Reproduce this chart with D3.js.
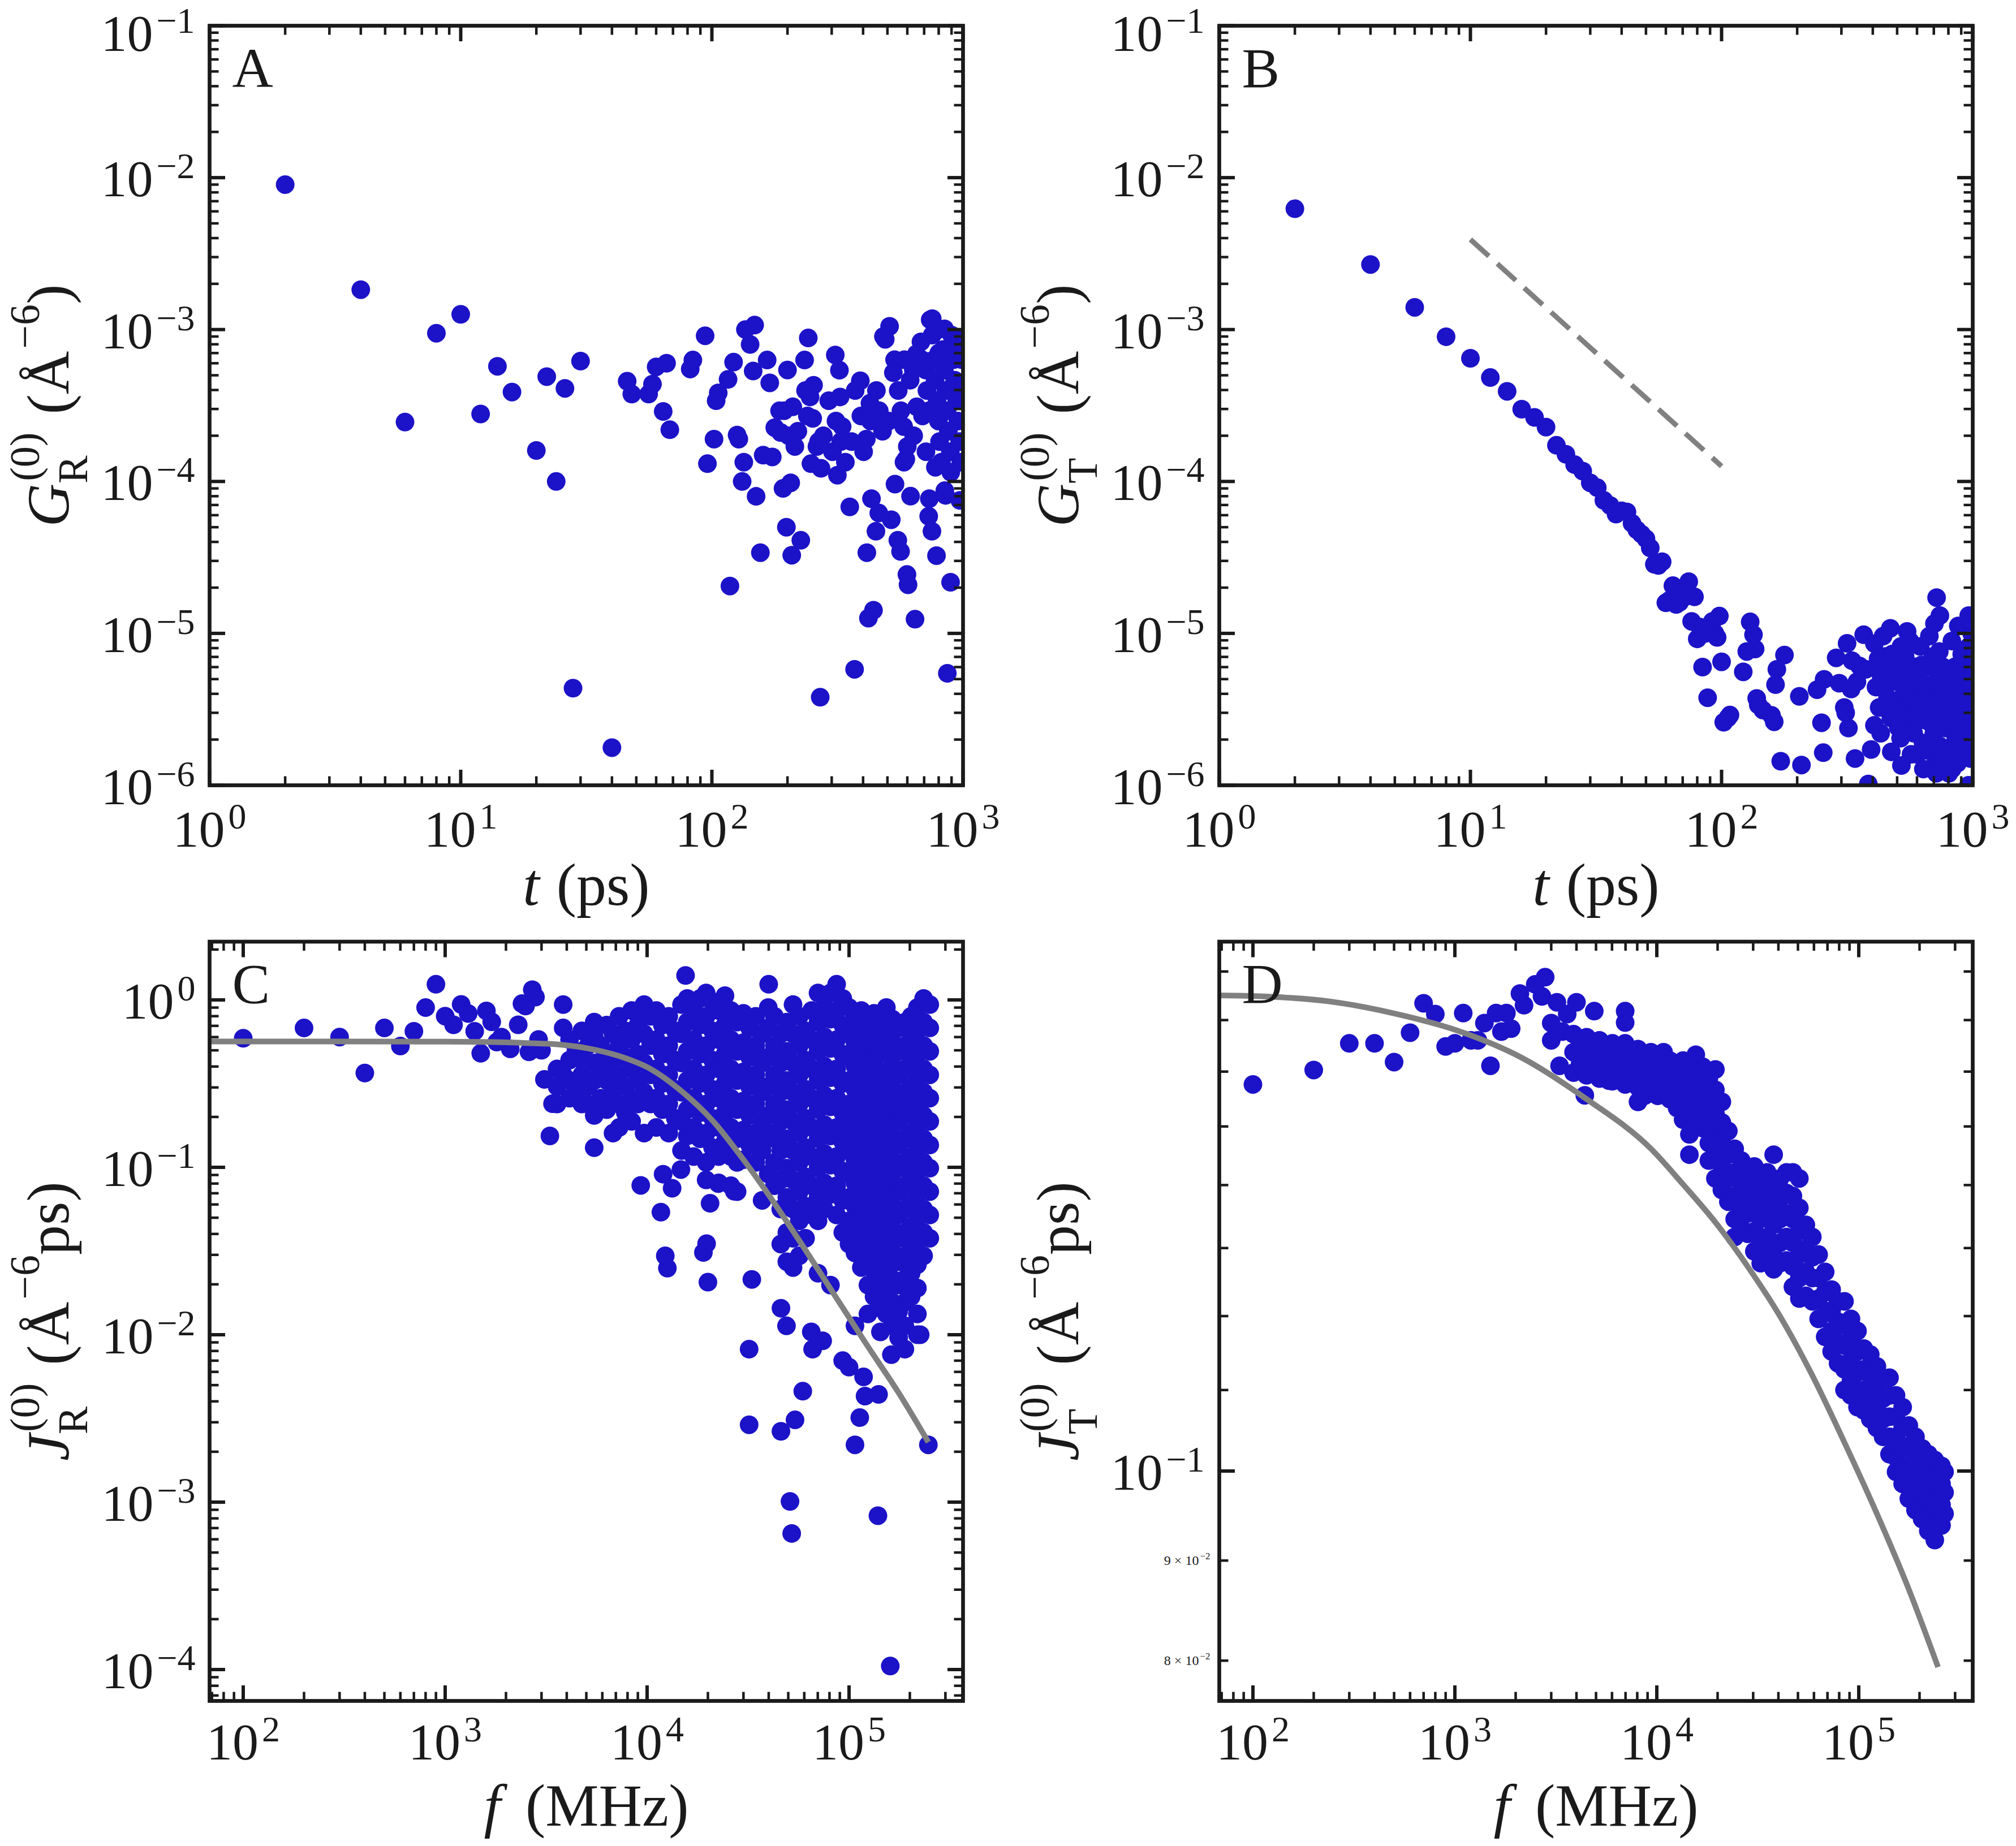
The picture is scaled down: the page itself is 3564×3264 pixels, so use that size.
<!DOCTYPE html>
<html>
<head>
<meta charset="utf-8">
<script src="https://cdn.jsdelivr.net/npm/d3@7"></script>
<style>
  body { margin: 0; background: #fff; }
  svg text { font-family: "Liberation Serif", "DejaVu Serif", serif; fill: #1a1a1a; }
</style>
</head>
<body>
<svg id="fig" width="3564" height="3264"></svg>
<script>
// ---- data ----
// A: G_R(t), t in ps
var aPts = [[2,9.0e-3],[4,1.83e-3],[6,2.46e-4],[8,9.46e-4],[10,1.26e-3],[12,2.78e-4],[14,5.73e-4],[16,3.88e-4],[20,1.6e-4],[22,4.9e-4],[24,1.0e-4],[26,4.1e-4],[28,4.36e-6],[30,6.2e-4],[40,1.77e-6],[46,4.57e-4],[48,3.76e-4],[56,3.76e-4],[58,4.37e-4],[60,5.68e-4],[64,2.89e-4],[66,6.0e-4],[68,2.19e-4],[82,5.5e-4],[84,6.3e-4],[94,9.1e-4],[96,1.31e-4],[102,1.9e-4],[104,3.4e-4],[106,3.83e-4],[116,4.7e-4],[118,2.05e-5],[122,6.1e-4],[126,2.02e-4],[128,1.9e-4],[132,1.0e-4],[134,1.34e-4],[136,1.0e-3],[142,7.98e-4],[146,5.33e-4],[148,1.07e-3],[150,7.98e-5],[156,3.4e-5],[160,1.49e-4],[166,6.3e-4],[170,4.46e-4],[174,1.45e-4],[178,2.26e-4],[186,2.92e-4],[192,9.0e-5],[198,5.0e-5],[200,5.42e-4],[206,9.8e-5],[208,3.27e-5],[226,4.1e-5],[234,6.3e-4],[242,8.8e-4],[248,1.31e-4],[252,2.6e-4],[254,4.3e-4],[266,1.83e-4],[270,3.8e-6],[272,1.22e-4],[310,6.8e-4],[316,1.1e-4],[322,5.4e-4],[326,1.83e-4],[354,6.8e-5],[370,5.8e-6],[390,4.6e-4],[414,3.4e-5],[420,1.26e-5],[426,3.27e-4],[432,7.7e-5],[440,1.42e-5],[450,4.7e-5],[462,6.2e-5],[482,9.0e-4],[510,1.05e-3],[518,5.6e-5],[550,4.1e-5],[564,3.46e-5],[582,1.34e-4],[598,2.44e-5],[604,2.09e-5],[644,1.24e-5],[680,8.3e-4],[730,5.9e-5],[740,1.16e-3],[752,4.7e-5],[784,3.25e-5],[796,1.0e-3],[852,8.1e-5],[866,5.46e-6],[892,2.17e-5],[972,7.5e-5],
  [490,8.63e-4],[534,6.33e-4],[528,5.2e-4],[552,3.97e-4],[566,2.92e-4],[580,2.3e-4],[600,1.7e-4],[592,1.4e-4],[616,4.64e-4],[634,5.42e-4],[652,6.9e-4],[686,6.33e-4],[710,5.42e-4],[718,3.97e-4],[732,2.92e-4],[754,9.2e-4],[766,6.33e-4],[774,4.64e-4],[788,3.4e-4],[798,2.5e-4],[806,1.83e-4],[820,1.34e-4],[834,7.39e-4],[842,5.42e-4],[854,3.97e-4],[864,2.92e-4],[874,2.14e-4],[890,1.57e-4],[900,9.2e-4],[916,6.33e-4],[926,4.64e-4],[944,3.4e-4],[954,2.5e-4],[970,1.83e-4],[980,1.34e-4],[968,8.63e-4],[990,6.33e-4],[988,3.97e-4],[894,1.15e-4],[776,1.24e-4],[712,1.57e-4],[636,2.0e-4],[654,3.1e-4],[690,2.7e-4],[506,2.5e-4],[478,2.14e-4],[464,2.92e-4],[452,3.97e-4],[428,2.5e-4],[412,1.9e-4],[402,1.57e-4],[392,2.7e-4],[372,3.97e-4],[360,1.83e-4],[340,1.34e-4],[330,2.3e-4],[324,3.6e-4],[312,2.5e-4],[302,1.57e-4],[292,3.4e-4],[278,2.0e-4],[262,1.7e-4],[246,3.6e-4],[240,2.7e-4],[236,3.97e-4],[220,2.14e-4],[214,1.7e-4],[210,3.1e-4],[202,2.0e-4],[194,2.92e-4],[188,2.1e-4],[584,6.33e-4],[800,7.0e-4],[946,7.4e-4],[844,1.01e-3],[754,1.18e-3],[536,9.6e-5],[618,8.0e-5],[734,7.7e-5],[846,8.7e-5]];

// B: G_T(t)
var bPts = [[2,6.24e-3],[4,2.68e-3],[6,1.40e-3],[8,8.97e-4],[10,6.47e-4],[12,4.83e-4],[14,3.92e-4],[16,2.99e-4],[18,2.64e-4],[20,2.28e-4],[22,1.73e-4],[24,1.51e-4],[26,1.29e-4],[28,1.17e-4],[30,9.8e-5],[32,9.1e-5],[34,7.5e-5],[36,6.95e-5],[38,6.1e-5],[40,6.4e-5],[42,6.3e-5],[44,5.3e-5],[46,4.8e-5],[48,4.5e-5],[50,4.2e-5],[52,3.65e-5],[54,2.85e-5],[56,2.8e-5],[58,2.96e-5],[60,1.59e-5],[62,1.65e-5],[64,2.06e-5],[66,1.55e-5],[68,1.6e-5],[70,1.71e-5],[72,1.75e-5],[74,2.19e-5],[76,1.2e-5],[78,1.74e-5],[80,9.2e-6],[82,1.1e-5],[84,6.0e-6],[86,1.0e-5],[88,3.77e-6],[90,1.05e-5],[92,1.2e-5],[94,1.0e-5],[96,9.4e-6],[98,1.3e-5],[100,6.5e-6],[102,2.6e-6],
  [106,2.78e-6],[108,2.9e-6],[122,5.58e-6],[126,7.6e-6],[130,1.19e-5],[134,9.8e-6],[136,7.9e-6],[138,3.73e-6],[140,3.38e-6],[146,3.13e-6],[158,2.89e-6],[162,2.62e-6],[164,4.6e-6],[166,5.8e-6],[172,1.44e-6],[178,7.2e-6],[204,3.85e-6],[208,1.36e-6],[240,4.26e-6],[250,2.58e-6],[254,1.64e-6],[256,4.98e-6],[286,6.9e-6],[294,4.7e-6],[308,3.25e-6],[316,8.6e-6],[320,2.38e-6],[340,1.5e-6],[346,4.8e-6],[354,6.1e-6],[368,9.8e-6],[376,5.8e-6],[384,1.02e-6],[394,1.72e-6],[406,2.48e-6],[328,4.3e-6],[312,3.0e-6],[331,6.6e-6],
  [406,8.57e-6],[420,6.8e-6],[444,6.04e-6],[432,5.17e-6],[412,4.43e-6],[458,3.79e-6],[424,3.25e-6],[472,2.78e-6],[516,2.04e-6],[474,1.66e-6],[486,6.04e-6],[478,7.3e-6],[470,1.08e-5],[518,8.2e-6],[532,5.6e-6],
  [548,1.03e-5],[562,8.9e-6],[538,7.05e-6],[580,6.04e-6],[564,4.8e-6],[598,4.0e-6],[616,3.25e-6],[566,2.45e-6],[634,1.9e-6],[600,1.6e-6],[626,6.2e-6],[618,8.2e-6],
  [704,1.16e-5],[672,9.6e-6],[736,7.6e-6],[652,6.04e-6],[712,4.8e-6],[756,3.79e-6],[692,3.0e-6],[780,2.38e-6],[738,1.82e-6],[714,1.5e-6],[716,1.2e-6],[718,1.72e-5],[740,1.31e-5],[802,1.75e-6],[804,1.2e-6],
  [876,1.12e-5],[826,8.9e-6],[904,7.3e-6],[852,6.04e-6],[932,4.8e-6],[894,3.79e-6],[958,3.0e-6],[854,2.38e-6],[960,1.95e-6],[906,1.62e-6],[828,1.28e-6],[962,1.0e-6],[964,1.31e-5],[990,1.0e-5],[992,4.43e-6],[994,2.78e-6],[914,1.82e-6],
  [440,9.6e-6],[450,7.05e-6],[500,4.8e-6],[524,3.79e-6],[550,3.0e-6],[582,2.2e-6],[654,3.79e-6],[674,2.6e-6],[758,6.04e-6],[782,4.43e-6],[830,3.25e-6],[880,4.8e-6],[934,6.6e-6],[908,2.78e-6],[948,2.38e-6],[856,2.04e-6],[794,2.9e-6],[636,1.28e-6],[568,1.6e-6],[694,7.05e-6],[966,8.2e-6],[1000,6.0e-6],
  [430,2.2e-6],[460,4.8e-6],[490,3.3e-6],[505,2.4e-6],[540,4.2e-6],[575,3.6e-6],[590,2.8e-6],[610,5.2e-6],[640,2.7e-6],[660,4.4e-6],[680,3.4e-6],[700,2.2e-6],[725,5.4e-6],[745,2.9e-6],[765,4.6e-6],[790,3.6e-6],[815,5.2e-6],[840,2.7e-6],[865,4.2e-6],[885,3.2e-6],[918,5.6e-6],[940,3.6e-6],[975,4.9e-6],[985,3.4e-6],[998,2.2e-6],[980,1.5e-6],[870,1.4e-6],[760,1.45e-6],[650,1.7e-6],[520,1.35e-6]];

// B: t^-3/2 guide (dashed)
var bGuide = [[10,3.92e-3],[100,1.26e-4]];

// C: J_R(f), f in MHz - isolated points
var cPts = [[100,0.59],[200,0.68],[300,0.60],[400,0.366],[500,0.68],[600,0.53],[700,0.65],[800,0.90],[900,1.24],[1000,0.80],[1100,0.71],[1200,0.94],[1300,0.83],[1400,0.65],[1500,0.48],[1600,0.86],[1700,0.74],[1800,0.56],[1900,0.60],[2100,0.51],[2300,0.71],[2400,0.95],[2500,0.92],[2600,0.49],[2700,1.15],[2800,1.04],[2900,0.58],[3000,0.50],[3100,0.335],[3300,0.154],[3400,0.24],
  [9300,0.078],[1.17e4,0.054],[1.2e4,0.091],[1.23e4,0.0296],[1.26e4,0.025],[1.33e4,0.075],[1.47e4,0.097],[1.55e4,1.40],[1.9e4,0.031],[1.97e4,0.035],[2.0e4,0.0206],[2.05e4,0.061],[2.25e4,0.08],[2.7e4,0.072],[3.2e4,0.0082],[3.2e4,0.0029],[3.3e4,0.0214],[4.0e4,1.24],[4.6e4,0.00265],[4.6e4,0.0144],[4.9e4,0.0113],[5.1e4,0.00101],[5.2e4,0.00065],[5.4e4,0.0031],[5.9e4,0.0046],[6.5e4,0.0104],[6.6e4,0.0082],[7.4e4,0.0092],[9.3e4,0.007],[1.0e5,0.0064],[1.07e5,0.0022],[1.13e5,0.0032],[1.18e5,0.0056],[1.2e5,0.0043],[1.39e5,0.00083],[1.6e5,0.000105],[1.4e5,0.0044],[1.62e5,0.0076],[2.47e5,0.0022],[2.25e5,0.01]];

// C: dense part, J values grouped by frequency column
var cColF = [3580,3840,4130,4440,4750,5100,5470,5890,6310,6780,7270,7800,8380,9000,9660,1.04e4,1.11e4,1.19e4,1.28e4,1.38e4,1.48e4,1.58e4,1.70e4,1.83e4,1.96e4,2.11e4,2.26e4,2.43e4,2.60e4,2.79e4,3.0e4,3.22e4,3.45e4,3.71e4,3.98e4,4.27e4,4.59e4,4.92e4,5.28e4,5.67e4,6.09e4,6.53e4,7.02e4,7.53e4,8.09e4,8.68e4,9.31e4,1.0e5,1.07e5,1.15e5,1.24e5,1.33e5,1.43e5,1.53e5,1.64e5,1.76e5,1.89e5,2.03e5,2.18e5,2.34e5,2.51e5];
var cColJ = [
  [.387,.304,.239],[.938,.680,.357],[.579,.437,.330,.259],[.493,.281],[.653,.437,.357,.239],[.534,.304,.239],
  [.737,.603,.420,.330,.204,.131],[.534,.387,.259],[.708,.474,.330,.221],[.627,.420,.281,.160],[.798,.534,.357,.239,.173],
  [.653,.455,.304,.212],[.865,.579,.387,.259,.188],[.865,.708,.474,.330,.239],[.938,.627,.420,.281,.160],[.798,.534,.357,.239],
  [.865,.579,.387,.259,.173],[.708,.474,.317,.221],[.798,.534,.357,.239,.160],[.653,.437,.292,.196],[.938,.627,.420,.281,.188,.126],
  [1.02,.737,.493,.330,.221,.154],[.865,.579,.387,.259,.173,.116],[1.02,.708,.474,.317,.212,.148],[1.10,.798,.534,.357,.239,.160,.107,.0841],
  [.976,.653,.437,.292,.196,.131],[.865,.579,.387,.259,.173,.116,.0808],[1.06,.708,.474,.317,.212,.142],[.865,.579,.387,.259,.173,.116,.0776],
  [.737,.493,.330,.221,.148,.107,.0716],[.831,.556,.372,.249,.167,.111],[.680,.455,.304,.204,.136],[.798,.534,.357,.239,.160,.107],
  [.627,.420,.281,.188,.126,.0635],[.901,.680,.455,.304,.204,.148,.0912],[.798,.534,.357,.239,.160,.107,.0776],
  [.627,.420,.281,.188,.126,.0841,.0563,.0348],[.737,.493,.330,.221,.148,.0988,.0661,.0408,.0273],
  [.938,.627,.420,.281,.188,.126,.0841,.0563,.0377,.0252],[.798,.534,.357,.239,.160,.107,.0716,.0479,.0296],
  [.653,.437,.292,.196,.131,.0876,.0586,.0377],[.865,.579,.387,.259,.173,.116,.0776,.0519],
  [1.10,.737,.493,.330,.221,.148,.0988,.0661,.0479,.0233],[.901,.603,.403,.270,.180,.121,.0808,.0563],
  [1.10,.767,.513,.343,.230,.154,.103,.0688,.0198],[1.24,.865,.579,.387,.259,.173,.116,.0776,.0519],
  [1.02,.708,.474,.317,.212,.142,.0949,.0635,.0408],
  [.901,.627,.455,.330,.239,.173,.126,.0912,.0661,.0479,.0348],
  [.767,.556,.403,.292,.212,.154,.111,.0808,.0586,.0425,.0308,.0113],
  [.865,.627,.455,.330,.239,.173,.126,.0912,.0661,.0479,.0348,.0252],
  [.737,.534,.387,.281,.204,.148,.107,.0776,.0563,.0408,.0296,.0198,.0133],
  [.831,.603,.437,.317,.230,.167,.121,.0876,.0635,.0460,.0334,.0242,.0169],
  [.708,.513,.372,.270,.196,.142,.103,.0746,.0541,.0392,.0284,.0206,.0144,.0104],
  [.901,.653,.474,.343,.249,.180,.131,.0949,.0688,.0499,.0362,.0262,.0183,.0133],
  [.767,.556,.403,.292,.212,.154,.111,.0808,.0586,.0425,.0308,.0215,.0156,.0113],
  [.680,.493,.357,.259,.188,.136,.0988,.0716,.0519,.0377,.0273,.0198,.0138,.0096],
  [.737,.534,.387,.281,.204,.148,.107,.0776,.0563,.0408,.0296,.0215,.0156,.0113,.0082],
  [.798,.579,.420,.304,.221,.160,.116,.0841,.0610,.0442,.0321,.0233,.0169],
  [.901,.653,.474,.343,.249,.180,.131,.0949,.0688,.0499,.0362,.0262,.0190,.0133,.0100],
  [1.02,.737,.534,.387,.281,.204,.148,.107,.0776,.0563,.0408,.0296],
  [.938,.680,.493,.357,.259,.188,.136,.0988,.0716,.0519,.0377]];

// C: model curve (grey)
var cCurve = [[68,0.565],[300,0.565],[1000,0.563],[2000,0.558],[2510,0.553],[3580,0.543],[5120,0.513],[7270,0.462],[1.04e4,0.387],[1.48e4,0.285],[2.11e4,0.190],[3.0e4,0.111],[4.27e4,0.061],[6.09e4,0.032],[8.68e4,0.0165],[1.24e5,0.0085],[1.76e5,0.0045],[2.47e5,0.00228]];

// D: J_T(f) - isolated points
var dPts = [[100,.1576],[200,.1603],[300,.1654],[400,.1654],[500,.1618],[600,.1675],[700,.1734],[800,.1712],[900,.1648],[1000,.1654],[1100,.1714],[1200,.1660],[1300,.1660],[1400,.1694],[1500,.1611],[1600,.1714],[1700,.1677],[1800,.1714],[1900,.1683],[2100,.1754],[2200,.1730],[2500,.1773],[2700,.1748],[2800,.1788],[3000,.1694],[3000,.166],[3200,.1736],[3300,.1611],[3400,.1677],[3600,.1712],[4000,.1736],[4400,.1556],[4900,.1718],[5800,.1583],[6970,.1718]];

// D: dense band by frequency column
var dColF = [3870,4170,4490,4830,5200,5600,6030,6490,6970,7510,8070,8690,9350,1.01e4,1.08e4,1.16e4,1.26e4,1.35e4,1.45e4,1.56e4,1.69e4,1.81e4,1.95e4,2.1e4,2.26e4,2.43e4,2.62e4,2.82e4,3.04e4,3.27e4,3.52e4,3.79e4,4.07e4,4.39e4,4.72e4,5.08e4,5.47e4,5.89e4,6.33e4,6.82e4,7.34e4,7.9e4,8.5e4,9.15e4,9.86e4,1.06e5,1.14e5,1.23e5,1.32e5,1.42e5,1.53e5,1.65e5,1.77e5,1.91e5,2.06e5,2.21e5,2.38e5,2.57e5,2.66e5];
var dColJ = [
  [.1672,.1637,.1598],[.1654,.1615],[.1666,.1632,.1593],[.1649,.1609],[.1660,.1626,.1587],[.1643,.1604],[.1654,.1621,.1582],[.1637,.1598],
  [.1695,.1654,.1615,.1576],[.1637,.1598],[.1643,.1609,.1571,.1544],[.1626,.1587,.1555],[.1637,.1604,.1571],[.1621,.1587,.1555],
  [.1637,.1604,.1566],[.1621,.1587,.1549],[.1609,.1571,.1533],[.1621,.1587,.1549,.1512],[.1604,.1566,.1528,.1486,.1451],
  [.1632,.1587,.1549,.1512],[.1609,.1571,.1533,.1497],[.1587,.1549,.1512,.1471,.1441],[.1604,.1566,.1523,.1486,.1451,.1411],
  [.1544,.1507,.1471,.1431,.1392],[.1492,.1451,.1411,.1373],[.1461,.1421,.1382,.1345,.1317],[.1441,.1402,.1363,.1331],
  [.1421,.1387,.1354,.1322],[.1431,.1397,.1363,.1326,.1295],[.1411,.1378,.1345,.1308,.1277],[.1421,.1387,.1354,.1317,.1286],
  [.1451,.1402,.1368,.1336,.1299,.1268],[.1411,.1378,.1345,.1308,.1277],[.1421,.1387,.1354,.1317,.1281],
  [.1421,.1382,.1345,.1308,.1272,.1242],[.1411,.1363,.1326,.1290,.1255,.1225],[.1336,.1299,.1264,.1229],[.1317,.1286,.1255,.1221],
  [.1290,.1255,.1225,.1196],[.1264,.1234,.1204,.1171],[.1238,.1208,.1179,.1151],[.1221,.1192,.1163,.1135],
  [.1221,.1187,.1159,.1127,.1100],[.1196,.1167,.1139,.1112,.1093],[.1179,.1151,.1123,.1096,.1078],[.1155,.1127,.1100,.1074],
  [.1147,.1119,.1093,.1063],[.1131,.1104,.1078,.1052],[.1116,.1089,.1063,.1041],[.1116,.1093,.1066,.1041,.1020],
  [.1093,.1066,.1041,.1016,.0999],[.1078,.1052,.1027,.1002,.0985],[.1055,.1030,.1006,.0981,.0968],[.1041,.1016,.0992,.0968,.0955],
  [.1027,.1002,.0978,.0955,.0945],[.1020,.0995,.0971,.0948,.0932],[.1013,.0988,.0965,.0942,.0922],[.1006,.0985,.0961,.0938],
  [.0999,.0975,.0951]];

// D: model curve (grey)
var dCurve = [[68,0.1750],[113,0.1748],[237,0.1738],[493,0.1714],[1030,0.1679],[2150,0.1626],[4490,0.1549],[9360,0.1461],[1.35e4,0.1401],[1.95e4,0.1340],[2.82e4,0.1272],[4.07e4,0.1200],[5.89e4,0.1119],[8.5e4,0.1034],[1.23e5,0.0951],[1.77e5,0.0870],[2.47e5,0.0794]];

// tick label exponents
var tExpX = [0, 1, 2, 3];
var gExpY = [-1, -2, -3, -4, -5, -6];
var fExpX = [2, 3, 4, 5];
var jrExpY = [0, -1, -2, -3, -4];
var jtExpY = [-1];
var jtMinorY = [9, 8];   // 9x10^-2, 8x10^-2

// ---- drawing ----
var ink = "#1a1a1a", blue = "#1c12c8", grey = "#808080",
    dotR = 16.5, tickFont = 92, labFont = 106, smallFont = 74;

var svg = d3.select("#fig");

function unroll(colF, colJ) {
  var out = [];
  colF.forEach(function(f, i) { colJ[i].forEach(function(j) { out.push([f, j]); }); });
  return out;
}

function isMajor(v) {
  var l = Math.log10(v);
  return Math.abs(l - Math.round(l)) < 1e-9;
}

function supText(v) { return v < 0 ? "\u2212" + (-v) : String(v); }

function powLabel(g, x, y, e, anchor) {
  var t = g.append("text").attr("x", x).attr("y", Math.max(y, 90))
      .attr("text-anchor", anchor).attr("font-size", tickFont);
  t.append("tspan").text("10");
  t.append("tspan").attr("dx", 6).attr("dy", -32)
      .attr("font-size", 64).text(supText(e));
}

function rich(g, runs) {
  var x = 0, sx = 0;
  runs.forEach(function(r) {
    var x0 = r.stack ? sx : x;
    var el = g.append("text").attr("x", x0 + (r.dx || 0)).attr("y", r.dy || 0)
        .attr("font-size", r.size).text(r.t);
    if (r.it) el.attr("font-style", "italic");
    var w = el.node().getComputedTextLength() + (r.dx || 0);
    if (!r.stack) sx = x0;
    x = Math.max(x, x0 + w);
  });
  return x;
}

function yLabel(cx, cy, runs) {
  var g = svg.append("g").attr("transform", "translate(" + cx + "," + cy + ") rotate(-90)");
  var inner = g.append("g");
  var w = rich(inner, runs);
  inner.attr("transform", "translate(" + (-w / 2) + ",0)");
}

function xLabel(cx, y, sym, rest, gap) {
  var g = svg.append("g");
  var inner = g.append("g");
  var w = rich(inner, [{t: sym, size: labFont, it: true}, {t: rest, size: labFont, dx: gap}]);
  inner.attr("transform", "translate(" + (cx - w / 2) + "," + y + ")");
}

function panel(id, x, y, letter) {
  var x0 = x.range()[0], x1 = x.range()[1], yb = y.range()[0], yt = y.range()[1];
  var g = svg.append("g");
  g.append("clipPath").attr("id", "clip" + id).append("rect")
      .attr("x", x0).attr("y", yt).attr("width", x1 - x0).attr("height", yb - yt);
  var plot = g.append("g").attr("clip-path", "url(#clip" + id + ")");
  var ax = g.append("g");

  x.ticks().forEach(function(v) {
    var m = isMajor(v), L = m ? 27.5 : 16, sw = m ? 6 : 4.5, px = x(v);
    ax.append("line").attr("x1", px).attr("x2", px).attr("y1", yb).attr("y2", yb - L)
        .attr("stroke", ink).attr("stroke-width", sw);
    ax.append("line").attr("x1", px).attr("x2", px).attr("y1", yt).attr("y2", yt + L)
        .attr("stroke", ink).attr("stroke-width", sw);
  });
  y.ticks().forEach(function(v) {
    var m = isMajor(v), L = m ? 27.5 : 16, sw = m ? 6 : 4.5, py = y(v);
    ax.append("line").attr("x1", x0).attr("x2", x0 + L).attr("y1", py).attr("y2", py)
        .attr("stroke", ink).attr("stroke-width", sw);
    ax.append("line").attr("x1", x1).attr("x2", x1 - L).attr("y1", py).attr("y2", py)
        .attr("stroke", ink).attr("stroke-width", sw);
  });
  ax.append("rect").attr("x", x0).attr("y", yt).attr("width", x1 - x0).attr("height", yb - yt)
      .attr("fill", "none").attr("stroke", ink).attr("stroke-width", 6.7);
  ax.append("text").attr("x", x0 + 40).attr("y", yt + 108).attr("font-size", 100).text(letter);
  return {plot: plot, ax: ax};
}

function dots(layer, x, y, pts) {
  layer.selectAll(null).data(pts).enter().append("circle")
      .attr("cx", function(d) { return x(d[0]); })
      .attr("cy", function(d) { return y(d[1]); })
      .attr("r", dotR).attr("fill", blue);
}

function curve(layer, x, y, pts, dash) {
  var line = d3.line().x(function(d) { return x(d[0]); }).y(function(d) { return y(d[1]); })
      .curve(d3.curveMonotoneX);
  var p = layer.append("path").datum(pts).attr("d", line).attr("fill", "none")
      .attr("stroke", grey).attr("stroke-width", dash ? 9 : 10);
  if (dash) p.attr("stroke-dasharray", dash);
}

// geometry (pixels)
var colL = [370.5, 2155.5], colR = [1702.5, 3487.5];
var rowT = [45.5, 1665], rowB = [1388.5, 3007.5];

// scales
var xA = d3.scaleLog().domain([1, 1e3]).range([colL[0], colR[0]]);
var xB = d3.scaleLog().domain([1, 1e3]).range([colL[1], colR[1]]);
var yAB = d3.scaleLog().domain([1e-6, 1e-1]).range([rowB[0], rowT[0]]);
var fDom = [Math.pow(10, 1.8333), Math.pow(10, 5.5644)];
var xC = d3.scaleLog().domain(fDom).range([colL[0], colR[0]]);
var xD = d3.scaleLog().domain(fDom).range([colL[1], colR[1]]);
var yC = d3.scaleLog().domain([Math.pow(10, -4.1875), Math.pow(10, 0.348)]).range([rowB[1], rowT[1]]);
var yD = d3.scaleLog().domain([Math.pow(10, -1.11749), Math.pow(10, -0.72948)]).range([rowB[1], rowT[1]]);

// panel A
var pA = panel("A", xA, yAB, "A");
dots(pA.plot, xA, yAB, aPts);
// panel B
var pB = panel("B", xB, yAB, "B");
dots(pB.plot, xB, yAB, bPts);
curve(pB.plot, xB, yAB, bGuide, "44,20");
// panel C
var pC = panel("C", xC, yC, "C");
dots(pC.plot, xC, yC, cPts.concat(unroll(cColF, cColJ)));
curve(pC.plot, xC, yC, cCurve);
// panel D
var pD = panel("D", xD, yD, "D");
dots(pD.plot, xD, yD, dPts.concat(unroll(dColF, dColJ)));
curve(pD.plot, xD, yD, dCurve);
// keep frames and letters on top
[pA, pB, pC, pD].forEach(function(p) { p.ax.raise(); });

// tick labels
[xA, xB].forEach(function(x) {
  tExpX.forEach(function(e) { powLabel(svg, x(Math.pow(10, e)), rowB[0] + 108, e, "middle"); });
});
[[xA, colL[0]], [xB, colL[1]]].forEach(function(p) {
  gExpY.forEach(function(e) { powLabel(svg, p[1] - 26, yAB(Math.pow(10, e)) + 33, e, "end"); });
});
[xC, xD].forEach(function(x) {
  fExpX.forEach(function(e) { powLabel(svg, x(Math.pow(10, e)), rowB[1] + 103, e, "middle"); });
});
jrExpY.forEach(function(e) { powLabel(svg, colL[0] - 25, yC(Math.pow(10, e)) + 33, e, "end"); });
jtExpY.forEach(function(e) { powLabel(svg, colL[1] - 26, yD(Math.pow(10, e)) + 33, e, "end"); });
jtMinorY.forEach(function(m) {
  var t = svg.append("text").attr("x", colL[1] - 16).attr("y", yD(m * 1e-2) + 8)
      .attr("text-anchor", "end").attr("font-size", 24);
  t.append("tspan").text(m + " \u00d7 10");
  t.append("tspan").attr("dx", 2).attr("dy", -10).attr("font-size", 17).text("\u22122");
});

// axis labels
xLabel((colL[0] + colR[0]) / 2, rowB[0] + 211, "t", "(ps)", 30);
xLabel((colL[1] + colR[1]) / 2, rowB[0] + 211, "t", "(ps)", 30);
xLabel((colL[0] + colR[0]) / 2, rowB[1] + 220, "f", "(MHz)", 44);
xLabel((colL[1] + colR[1]) / 2, rowB[1] + 220, "f", "(MHz)", 44);

function gRuns(sym, sub, tail) {
  return [{t: sym, size: labFont, it: true},
          {t: "(0)", size: smallFont, dy: -52, dx: 4},
          {t: sub, size: smallFont, dy: 33, dx: 0, stack: true},
          {t: "(\u00c5", size: labFont, dx: 32},
          {t: "\u22126", size: smallFont, dy: -52, dx: 4},
          {t: tail, size: labFont}];
}
yLabel(colL[0] - 250, (rowT[0] + rowB[0]) / 2, gRuns("G", "R", ")"));
yLabel(colL[1] - 250, (rowT[0] + rowB[0]) / 2, gRuns("G", "T", ")"));
yLabel(colL[0] - 250, (rowT[1] + rowB[1]) / 2, gRuns("J", "R", "ps)"));
yLabel(colL[1] - 250, (rowT[1] + rowB[1]) / 2, gRuns("J", "T", "ps)"));
</script>
</body>
</html>
